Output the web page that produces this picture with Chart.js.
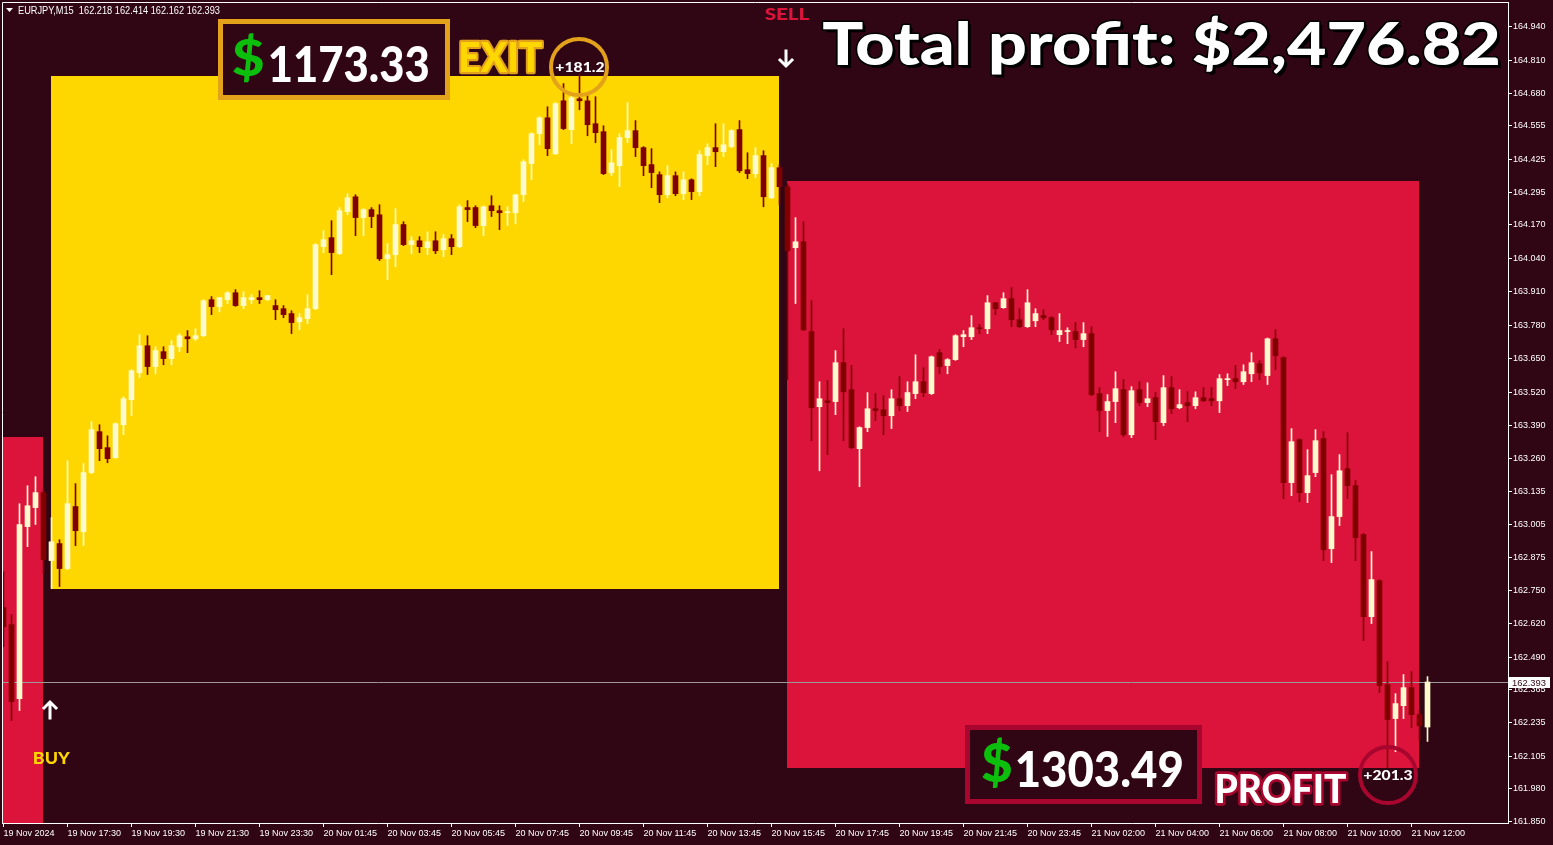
<!DOCTYPE html>
<html>
<head>
<meta charset="utf-8">
<script src="https://cdn.jsdelivr.net/npm/chart.js@4.4.1/dist/chart.umd.min.js"></script>
<style>
  html, body { margin: 0; padding: 0; background: #300614; }
  #wrap { width: 1553px; height: 845px; }
</style>
</head>
<body>
<div id="wrap"><canvas id="chart" width="1553" height="845"></canvas></div>
<script>
/* ── Data: EURJPY M15, one row per bar ──────────────────────────────────── */
const opens = [
  162.682, 162.616, 162.328, 162.997, 163.071, 163.129, 162.865, 162.931, 162.834, 163.075,
  162.977, 163.207, 163.366, 163.304, 163.265, 163.393, 163.490, 163.595, 163.700, 163.619,
  163.677, 163.650, 163.696, 163.735, 163.727, 163.739, 163.879, 163.852, 163.879, 163.906,
  163.856, 163.879, 163.887, 163.879, 163.856, 163.844, 163.825, 163.793, 163.805, 163.844,
  164.085, 164.120, 164.058, 164.221, 164.279, 164.198, 164.229, 164.209, 164.038, 164.054,
  164.171, 164.093, 164.108, 164.081, 164.108, 164.073, 164.116, 164.085, 164.237, 164.237,
  164.167, 164.244, 164.225, 164.217, 164.217, 164.287, 164.408, 164.524, 164.586, 164.446,
  164.652, 164.540, 164.660, 164.652, 164.563, 164.532, 164.373, 164.400, 164.509, 164.536,
  164.470, 164.404, 164.365, 164.287, 164.361, 164.291, 164.345, 164.299, 164.439, 164.470,
  164.454, 164.474, 164.540, 164.384, 164.369, 164.439, 164.275, 164.392, 164.318, 164.081,
  164.104, 163.755, 163.463, 163.486, 163.483, 163.634, 163.529, 163.300, 163.382, 163.455,
  163.451, 163.428, 163.494, 163.467, 163.514, 163.560, 163.514, 163.673, 163.623, 163.646,
  163.735, 163.735, 163.770, 163.766, 163.867, 163.848, 163.883, 163.801, 163.774, 163.797,
  163.817, 163.809, 163.743, 163.755, 163.755, 163.724, 163.747, 163.514, 163.448, 163.483,
  163.529, 163.354, 163.529, 163.479, 163.498, 163.401, 163.537, 163.459, 163.479, 163.467,
  163.498, 163.494, 163.486, 163.568, 163.572, 163.560, 163.591, 163.630, 163.584, 163.727,
  163.654, 163.168, 163.335, 163.129, 163.207, 163.339, 162.911, 163.036, 163.222, 163.156,
  162.966, 162.647, 162.787, 162.383, 162.251, 162.301, 162.371, 162.266, 162.218
];
const highs = [
  162.822, 162.655, 163.086, 163.156, 163.191, 163.140, 163.032, 162.946, 163.253, 163.164,
  163.242, 163.405, 163.393, 163.350, 163.400, 163.502, 163.607, 163.743, 163.739, 163.696,
  163.696, 163.720, 163.747, 163.759, 163.766, 163.879, 163.891, 163.887, 163.910, 163.918,
  163.910, 163.898, 163.914, 163.895, 163.879, 163.856, 163.836, 163.825, 163.898, 164.097,
  164.147, 164.186, 164.237, 164.291, 164.287, 164.233, 164.237, 164.248, 164.097, 164.233,
  164.182, 164.124, 164.124, 164.143, 164.143, 164.132, 164.132, 164.248, 164.264, 164.244,
  164.244, 164.283, 164.244, 164.240, 164.287, 164.423, 164.528, 164.590, 164.629, 164.645,
  164.719, 164.683, 164.757, 164.672, 164.668, 164.555, 164.462, 164.524, 164.645, 164.575,
  164.474, 164.466, 164.376, 164.400, 164.376, 164.376, 164.349, 164.458, 164.485, 164.563,
  164.563, 164.540, 164.575, 164.450, 164.470, 164.458, 164.408, 164.404, 164.330, 164.198,
  164.182, 163.875, 163.560, 163.564, 163.681, 163.766, 163.623, 163.385, 163.518, 163.514,
  163.506, 163.529, 163.580, 163.560, 163.665, 163.615, 163.660, 163.685, 163.650, 163.743,
  163.759, 163.817, 163.782, 163.895, 163.867, 163.906, 163.926, 163.844, 163.918, 163.844,
  163.840, 163.813, 163.825, 163.770, 163.790, 163.790, 163.774, 163.537, 163.510, 163.599,
  163.568, 163.541, 163.560, 163.556, 163.518, 163.584, 163.580, 163.529, 163.521, 163.521,
  163.537, 163.537, 163.588, 163.591, 163.623, 163.626, 163.673, 163.642, 163.730, 163.762,
  163.657, 163.378, 163.338, 163.296, 163.374, 163.366, 163.199, 163.277, 163.362, 163.176,
  162.970, 162.900, 162.790, 162.472, 162.348, 162.422, 162.433, 162.282, 162.414
];
const lows = [
  162.530, 162.243, 162.282, 162.919, 163.005, 162.814, 162.756, 162.764, 162.830, 162.923,
  162.923, 163.203, 163.253, 163.245, 163.262, 163.354, 163.428, 163.576, 163.588, 163.591,
  163.626, 163.626, 163.677, 163.673, 163.720, 163.735, 163.821, 163.832, 163.864, 163.853,
  163.844, 163.864, 163.864, 163.875, 163.801, 163.809, 163.747, 163.762, 163.786, 163.840,
  164.062, 163.976, 164.054, 164.209, 164.128, 164.128, 164.159, 164.031, 163.957, 164.007,
  164.089, 164.058, 164.062, 164.054, 164.058, 164.046, 164.054, 164.081, 164.182, 164.159,
  164.128, 164.202, 164.151, 164.167, 164.174, 164.260, 164.345, 164.481, 164.439, 164.443,
  164.540, 164.485, 164.617, 164.516, 164.489, 164.365, 164.361, 164.318, 164.489, 164.435,
  164.361, 164.314, 164.256, 164.275, 164.283, 164.268, 164.268, 164.283, 164.404, 164.396,
  164.435, 164.470, 164.373, 164.349, 164.353, 164.240, 164.272, 164.248, 163.568, 163.864,
  163.759, 163.331, 163.214, 163.277, 163.432, 163.331, 163.300, 163.152, 163.366, 163.409,
  163.354, 163.378, 163.448, 163.444, 163.494, 163.502, 163.510, 163.591, 163.591, 163.643,
  163.696, 163.724, 163.747, 163.747, 163.821, 163.845, 163.774, 163.770, 163.771, 163.774,
  163.801, 163.743, 163.716, 163.708, 163.692, 163.696, 163.506, 163.366, 163.347, 163.401,
  163.347, 163.343, 163.467, 163.463, 163.335, 163.389, 163.436, 163.455, 163.405, 163.455,
  163.483, 163.467, 163.440, 163.545, 163.533, 163.549, 163.560, 163.568, 163.549, 163.607,
  163.106, 163.117, 163.094, 163.090, 163.191, 162.865, 162.857, 163.001, 163.106, 162.865,
  162.554, 162.620, 162.352, 162.060, 162.122, 162.251, 162.216, 162.169, 162.162
];
const closes = [
  162.608, 162.317, 163.005, 163.078, 163.129, 162.869, 162.938, 162.834, 163.086, 162.981,
  163.207, 163.374, 163.300, 163.261, 163.397, 163.494, 163.603, 163.700, 163.619, 163.681,
  163.650, 163.700, 163.739, 163.727, 163.739, 163.875, 163.852, 163.887, 163.906, 163.856,
  163.887, 163.887, 163.879, 163.895, 163.840, 163.821, 163.790, 163.809, 163.844, 164.093,
  164.112, 164.062, 164.225, 164.275, 164.198, 164.229, 164.202, 164.038, 164.054, 164.171,
  164.093, 164.108, 164.085, 164.104, 164.069, 164.116, 164.085, 164.240, 164.229, 164.167,
  164.240, 164.225, 164.217, 164.221, 164.287, 164.415, 164.524, 164.586, 164.466, 164.641,
  164.544, 164.664, 164.652, 164.559, 164.528, 164.369, 164.411, 164.509, 164.536, 164.470,
  164.400, 164.373, 164.287, 164.361, 164.291, 164.345, 164.299, 164.443, 164.470, 164.454,
  164.481, 164.536, 164.380, 164.369, 164.439, 164.279, 164.392, 164.318, 164.069, 164.104,
  163.762, 163.459, 163.494, 163.479, 163.634, 163.521, 163.304, 163.382, 163.455, 163.448,
  163.428, 163.494, 163.467, 163.518, 163.560, 163.518, 163.657, 163.619, 163.646, 163.739,
  163.743, 163.770, 163.766, 163.867, 163.844, 163.883, 163.801, 163.774, 163.867, 163.825,
  163.809, 163.762, 163.759, 163.759, 163.724, 163.747, 163.510, 163.448, 163.483, 163.533,
  163.354, 163.525, 163.479, 163.494, 163.405, 163.537, 163.455, 163.471, 163.467, 163.498,
  163.486, 163.486, 163.572, 163.572, 163.560, 163.599, 163.634, 163.595, 163.727, 163.661,
  163.168, 163.327, 163.129, 163.195, 163.331, 162.907, 163.036, 163.214, 163.156, 162.954,
  162.647, 162.791, 162.379, 162.247, 162.309, 162.371, 162.266, 162.223, 162.393
];

/* axis labels (one time label every 8 bars) */
const xTickLabels = [
  "19 Nov 2024", "19 Nov 17:30", "19 Nov 19:30", "19 Nov 21:30", "19 Nov 23:30",
  "20 Nov 01:45", "20 Nov 03:45", "20 Nov 05:45", "20 Nov 07:45", "20 Nov 09:45",
  "20 Nov 11:45", "20 Nov 13:45", "20 Nov 15:45", "20 Nov 17:45", "20 Nov 19:45",
  "20 Nov 21:45", "20 Nov 23:45", "21 Nov 02:00", "21 Nov 04:00", "21 Nov 06:00",
  "21 Nov 08:00", "21 Nov 10:00", "21 Nov 12:00"
];
const yTickLabels = [
  "164.940", "164.810", "164.680", "164.555", "164.425", "164.295", "164.170", "164.040",
  "163.910", "163.780", "163.650", "163.520", "163.390", "163.260", "163.135", "163.005",
  "162.875", "162.750", "162.620", "162.490", "162.365", "162.235", "162.105", "161.980",
  "161.850"
];

/* trade zones: first bar, last bar, top price, bottom price */
const zoneStart  = [-0.2, 6, 98];
const zoneEnd    = [5, 97, 177];
const zoneTop    = [163.347, 164.750, 164.341];
const zoneBottom = [161.840, 162.756, 162.060];

const lastPrice = 162.393;
const headerText = "EURJPY,M15  162.218 162.414 162.162 162.393";

/* ── Colours ───────────────────────────────────────────────────────────── */
const BG = "#300614";
const BULL = "#FFFACD";
const BEAR = "#800000";
const ZONE_COLORS = ["#DC143C", "#FFD700", "#DC143C"];
const GOLD_RING = "#E3A21A";
const RED_RING = "#A8062E";

/* ── Helpers ───────────────────────────────────────────────────────────── */
const up = i => closes[i] >= opens[i];
const bodyData = opens.map((o, i) => ({ x: i, y: [o, closes[i]] }));
const wickData = opens.map((o, i) => ({ x: i, y: [lows[i], highs[i]] }));

// draw text so its ink fills a given box
function inkText(ctx, text, box, o) {
  ctx.save();
  ctx.font = `${o.weight || "bold"} 100px ${o.family || "Lato"}`;
  ctx.textAlign = "left";
  ctx.textBaseline = "alphabetic";
  const m = ctx.measureText(text);
  const iw = m.actualBoundingBoxLeft + m.actualBoundingBoxRight;
  const ih = m.actualBoundingBoxAscent + m.actualBoundingBoxDescent;
  const sx = box.w / iw, sy = box.h / ih;
  ctx.translate(box.x, box.y);
  ctx.scale(sx, sy);
  const ox = m.actualBoundingBoxLeft, oy = m.actualBoundingBoxAscent;
  if (o.shadow) {
    ctx.fillStyle = o.shadow;
    ctx.fillText(text, ox + o.shadowOff / sx, oy + o.shadowOff / sy);
  }
  if (o.stroke) {
    ctx.lineJoin = "round";
    ctx.strokeStyle = o.stroke;
    ctx.lineWidth = o.strokeWidth / Math.min(sx, sy);
    ctx.strokeText(text, ox, oy);
  }
  ctx.fillStyle = o.fill;
  ctx.fillText(text, ox, oy);
  ctx.restore();
}

// small text squeezed to a given width
function smallText(ctx, text, left, baseline, width, font, color) {
  ctx.save();
  ctx.font = font;
  ctx.textAlign = "left";
  ctx.textBaseline = "alphabetic";
  const w = ctx.measureText(text).width;
  ctx.translate(left, baseline);
  ctx.scale(width / w, 1);
  ctx.fillStyle = color;
  ctx.fillText(text, 0, 0);
  ctx.restore();
}

function arrow(ctx, cx, tip, tail, dir) {
  ctx.save();
  ctx.strokeStyle = "#ffffff";
  ctx.lineWidth = 3;
  ctx.lineCap = "square";
  ctx.beginPath();
  ctx.moveTo(cx, tip + dir * 2);
  ctx.lineTo(cx, tail);
  ctx.moveTo(cx - 6, tip + dir * 7);
  ctx.lineTo(cx, tip + dir * 1);
  ctx.lineTo(cx + 6, tip + dir * 7);
  ctx.stroke();
  ctx.restore();
}

function ring(ctx, cx, cy, r, color) {
  ctx.save();
  ctx.strokeStyle = color;
  ctx.lineWidth = 4;
  ctx.beginPath();
  ctx.arc(cx, cy, r, 0, Math.PI * 2);
  ctx.stroke();
  ctx.restore();
}

function moneyBox(ctx, x, y, w, h, border) {
  ctx.save();
  ctx.fillStyle = border;
  ctx.fillRect(x, y, w, h);
  ctx.fillStyle = BG;
  ctx.fillRect(x + 5, y + 5, w - 10, h - 10);
  ctx.restore();
}

/* ── Plugins ───────────────────────────────────────────────────────────── */
const backdrop = {
  id: "backdrop",
  beforeDraw(chart) {
    const { ctx, width, height } = chart;
    ctx.save();
    ctx.fillStyle = BG;
    ctx.fillRect(0, 0, width, height);
    ctx.restore();
  },
  beforeDatasetsDraw(chart) {
    const { ctx, chartArea: a, scales: { x, y } } = chart;
    ctx.save();
    ctx.beginPath();
    ctx.rect(a.left, a.top, a.right - a.left, a.bottom - a.top);
    ctx.clip();
    zoneStart.forEach((s, k) => {
      const x0 = Math.floor(x.getPixelForValue(s));
      const x1 = Math.floor(x.getPixelForValue(zoneEnd[k]));
      const y0 = Math.round(y.getPixelForValue(zoneTop[k]));
      const y1 = Math.round(y.getPixelForValue(zoneBottom[k]));
      ctx.fillStyle = ZONE_COLORS[k];
      ctx.fillRect(x0, y0, x1 - x0, y1 - y0);
    });
    // last price line
    const py = Math.round(y.getPixelForValue(lastPrice)) + 0.5;
    ctx.strokeStyle = "#9a9a9a";
    ctx.lineWidth = 1;
    ctx.beginPath();
    ctx.moveTo(a.left, py);
    ctx.lineTo(a.right, py);
    ctx.stroke();
    ctx.restore();
  }
};

const overlay = {
  id: "overlay",
  afterDraw(chart) {
    const { ctx, chartArea: a, scales: { x, y } } = chart;

    // frame top / left
    ctx.save();
    ctx.strokeStyle = "#ffffff";
    ctx.lineWidth = 1;
    ctx.beginPath();
    ctx.moveTo(a.left + 0.5, a.bottom);
    ctx.lineTo(a.left + 0.5, a.top + 0.5);
    ctx.lineTo(a.right, a.top + 0.5);
    ctx.stroke();
    ctx.restore();

    // last price tag on the axis
    const py = Math.round(y.getPixelForValue(lastPrice));
    ctx.save();
    ctx.fillStyle = "#ffffff";
    ctx.fillRect(a.right + 1, py - 5, 41, 11);
    ctx.restore();
    smallText(ctx, lastPrice.toFixed(3), a.right + 4, py + 4, 34, "9px 'Liberation Sans'", "#300614");

    // header line
    ctx.save();
    ctx.fillStyle = "#ffffff";
    ctx.beginPath();
    ctx.moveTo(6, 8); ctx.lineTo(13, 8); ctx.lineTo(9.5, 12);
    ctx.closePath(); ctx.fill();
    ctx.restore();
    smallText(ctx, headerText, 18, 14, 202, "10px 'Liberation Sans'", "#ffffff");

    // exit box
    moneyBox(ctx, 218, 19, 232, 81, GOLD_RING);
    inkText(ctx, "$", { x: 233, y: 33, w: 30, h: 49 }, { fill: "#0DBF0D", weight: 900 });
    inkText(ctx, "1173.33", { x: 270, y: 45, w: 158, h: 37 }, { fill: "#ffffff", weight: 900 });
    inkText(ctx, "EXIT", { x: 461, y: 41, w: 81, h: 31 }, { fill: "#FFD700", stroke: GOLD_RING, strokeWidth: 4, weight: 900 });
    ring(ctx, 579, 67, 28, GOLD_RING);
    inkText(ctx, "+181.2", { x: 556, y: 62, w: 48, h: 10 }, { fill: "#ffffff", weight: 900 });

    // sell marker
    inkText(ctx, "SELL", { x: 765, y: 7, w: 44, h: 13 }, { fill: "#DC143C", weight: 900 });
    arrow(ctx, 786, 67, 51, -1);

    // buy marker
    arrow(ctx, 50, 701, 718, 1);
    inkText(ctx, "BUY", { x: 34, y: 751, w: 36, h: 13 }, { fill: "#FFD700", weight: 900 });

    // title
    inkText(ctx, "Total profit: $2,476.82", { x: 823, y: 17, w: 675, h: 58 },
      { fill: "#ffffff", weight: 900, shadow: "#000000", shadowOff: 3, stroke: "#000000", strokeWidth: 3 });

    // profit box
    moneyBox(ctx, 965, 725, 237, 79, RED_RING);
    inkText(ctx, "$", { x: 982, y: 738, w: 29, h: 50 }, { fill: "#0DBF0D", weight: 900 });
    inkText(ctx, "1303.49", { x: 1017, y: 750, w: 165, h: 37 }, { fill: "#ffffff", weight: 900 });
    inkText(ctx, "PROFIT", { x: 1217, y: 773, w: 129, h: 30 }, { fill: "#ffffff", stroke: RED_RING, strokeWidth: 5, weight: 900 });
    ring(ctx, 1388, 775, 28, RED_RING);
    inkText(ctx, "+201.3", { x: 1364, y: 770, w: 48, h: 10 }, { fill: "#ffffff", weight: 900 });
  }
};

/* ── Chart ─────────────────────────────────────────────────────────────── */
const tickFont = { family: "'Liberation Sans', Arial, sans-serif", size: 9 };

new Chart(document.getElementById("chart"), {
  type: "bar",
  data: {
    datasets: [
      {
        data: bodyData,
        barThickness: 5,
        minBarLength: 1,
        grouped: false,
        borderWidth: 0,
        backgroundColor: c => up(c.dataIndex) ? BULL : BEAR,
        order: 0
      },
      {
        data: wickData,
        barThickness: 1,
        grouped: false,
        borderWidth: 0,
        backgroundColor: c => up(c.dataIndex) ? BULL : BEAR,
        order: 1
      }
    ]
  },
  options: {
    responsive: false,
    animation: false,
    events: [],
    layout: { padding: { left: 2, top: 2, right: 0, bottom: 0 } },
    plugins: { legend: { display: false }, tooltip: { enabled: false } },
    scales: {
      x: {
        type: "linear",
        position: "bottom",
        offset: false,
        min: -0.1875,
        max: 188.0625,
        afterBuildTicks: s => { s.ticks = xTickLabels.map((t, k) => ({ value: k * 8 })); },
        afterFit: s => { s.height = 22; s.paddingLeft = 0; s.paddingRight = 0; },
        ticks: {
          color: "#ffffff",
          font: tickFont,
          align: "start",
          maxRotation: 0,
          autoSkip: false,
          padding: 1,
          callback: (v, k) => xTickLabels[k]
        },
        grid: { offset: false, drawOnChartArea: false, drawTicks: true, tickLength: 4, color: "#ffffff" },
        border: { display: true, color: "#ffffff" }
      },
      y: {
        type: "linear",
        position: "right",
        min: 161.845,
        max: 165.036,
        afterBuildTicks: s => { s.ticks = yTickLabels.map(t => ({ value: parseFloat(t) })); },
        afterFit: s => { s.width = 45; s.paddingTop = 0; s.paddingBottom = 0; },
        ticks: {
          color: "#ffffff",
          font: tickFont,
          padding: 1,
          autoSkip: false,
          callback: (v, k) => yTickLabels[k]
        },
        grid: { drawOnChartArea: false, drawTicks: true, tickLength: 4, color: "#ffffff" },
        border: { display: true, color: "#ffffff" }
      }
    }
  },
  plugins: [backdrop, overlay]
});
</script>
</body>
</html>
